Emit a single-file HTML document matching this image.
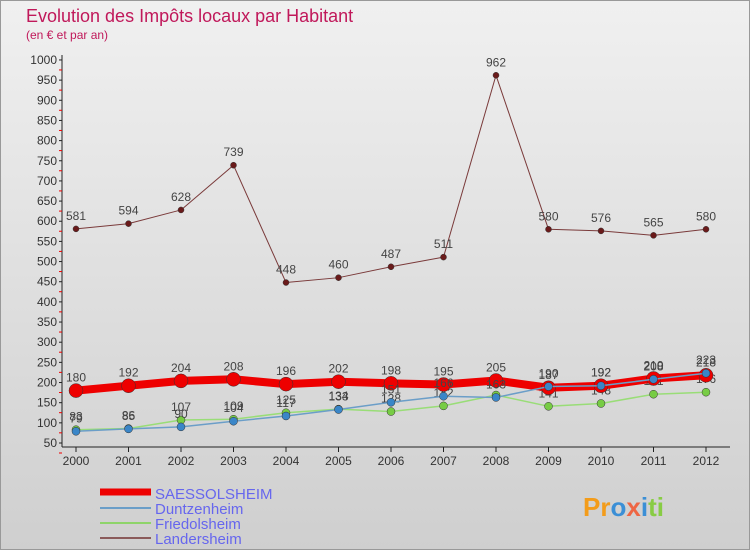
<!DOCTYPE html>
<html><head><meta charset="utf-8"><style>
body{margin:0;background:#fff}
svg{display:block;font-family:"Liberation Sans",sans-serif}
</style></head><body>
<svg width="750" height="550" viewBox="0 0 750 550">
<defs><linearGradient id="bg" x1="0" y1="0" x2="0" y2="1"><stop offset="0" stop-color="#f0f0f0"/><stop offset="1" stop-color="#cfcfcf"/></linearGradient></defs>
<rect x="0.5" y="0.5" width="749" height="549" fill="url(#bg)" stroke="#999"/>
<text x="26" y="22" font-size="18" fill="#c0185a">Evolution des Impôts locaux par Habitant</text>
<text x="26" y="39" font-size="12" fill="#c0185a">(en € et par an)</text>
<g id="axes"></g>
<g id="series"></g>
<g>
<line x1="100" y1="492" x2="151" y2="492" stroke="#e00" stroke-width="7"/>
<text x="155" y="499" font-size="15" fill="#6666ee">SAESSOLSHEIM</text>
<line x1="100" y1="508" x2="151" y2="508" stroke="#6b9ec8" stroke-width="2"/>
<text x="155" y="514" font-size="15" fill="#6666ee">Duntzenheim</text>
<line x1="100" y1="523" x2="151" y2="523" stroke="#8ed46a" stroke-width="2"/>
<text x="155" y="529" font-size="15" fill="#6666ee">Friedolsheim</text>
<line x1="100" y1="538" x2="151" y2="538" stroke="#8a5a5a" stroke-width="2"/>
<text x="155" y="544" font-size="15" fill="#6666ee">Landersheim</text>
</g>
<text x="583" y="516" font-size="26" font-weight="bold" fill="#f39c1a">Pr<tspan fill="#3b8fd6">o</tspan><tspan fill="#e64">x</tspan><tspan fill="#3b8fd6">i</tspan><tspan fill="#8c4">ti</tspan></text>
</svg>
<script>
const years=["2000","2001","2002","2003","2004","2005","2006","2007","2008","2009","2010","2011","2012"];
const yTicks=[50,100,150,200,250,300,350,400,450,500,550,600,650,700,750,800,850,900,950,1000];
const saessolsheim=[180,192,204,208,196,202,198,195,205,187,192,210,218];
const duntzenheim=[79,85,90,104,117,133,151,166,163,190,192,208,223];
const friedolsheim=[83,86,107,109,125,134,128,142,169,141,148,171,176];
const landersheim=[581,594,628,739,448,460,487,511,962,580,576,565,580];
const NS="http://www.w3.org/2000/svg";
const x=i=>76+i*52.5;
const y=v=>443-(v-50)*0.4032;
function mk(t,a,p){const e=document.createElementNS(NS,t);for(const k in a)e.setAttribute(k,a[k]);p.appendChild(e);return e;}
const ax=document.getElementById('axes');
mk('line',{x1:62,y1:55,x2:62,y2:447,stroke:'#222'},ax);
mk('line',{x1:62,y1:447,x2:730,y2:447,stroke:'#222'},ax);
yTicks.forEach(v=>{
 const g=mk('line',{x1:59,y1:y(v),x2:62,y2:y(v),stroke:'#222'},ax);
 
 
 mk('line',{x1:59,y1:y(v)+10,x2:62,y2:y(v)+10,stroke:'#e00'},ax);
 const t=mk('text',{x:57,y:y(v)+4,'font-size':12,fill:'#333','text-anchor':'end'},ax);t.textContent=v;
 
 
});
years.forEach((yr,i)=>{
 mk('line',{x1:x(i),y1:447,x2:x(i),y2:452,stroke:'#222'},ax);
 const t=mk('text',{x:x(i),y:465,'font-size':12,fill:'#333','text-anchor':'middle'},ax);t.textContent=yr;
 
 
});
const sg=document.getElementById('series');
function series(name,data,color,w,r,dot){
 const g=mk('g',{},sg);
 
 
 mk('polyline',{points:data.map((v,i)=>x(i)+','+y(v)).join(' '),fill:'none',stroke:color,'stroke-width':w,'stroke-linejoin':'round'},g);
 data.forEach((v,i)=>{
  const c=mk('circle',{cx:x(i),cy:y(v),r:r,fill:dot,stroke:'#333','stroke-width':0.5},g);
  
  
  const t=mk('text',{x:x(i),y:y(v)-9,'font-size':12,fill:'#444','text-anchor':'middle'},g);t.textContent=v;
  
  
 });
}
series('landersheim',landersheim,'#7a3a3a',1,3,'#6a1a1a');
series('friedolsheim',friedolsheim,'#99dd77',1.5,4,'#77cc44');
series('saessolsheim',saessolsheim,'#ee0000',8,7,'#ee0000');
series('duntzenheim',duntzenheim,'#6b9ec8',1.5,4,'#3a86c8');
</script>
</body></html>
